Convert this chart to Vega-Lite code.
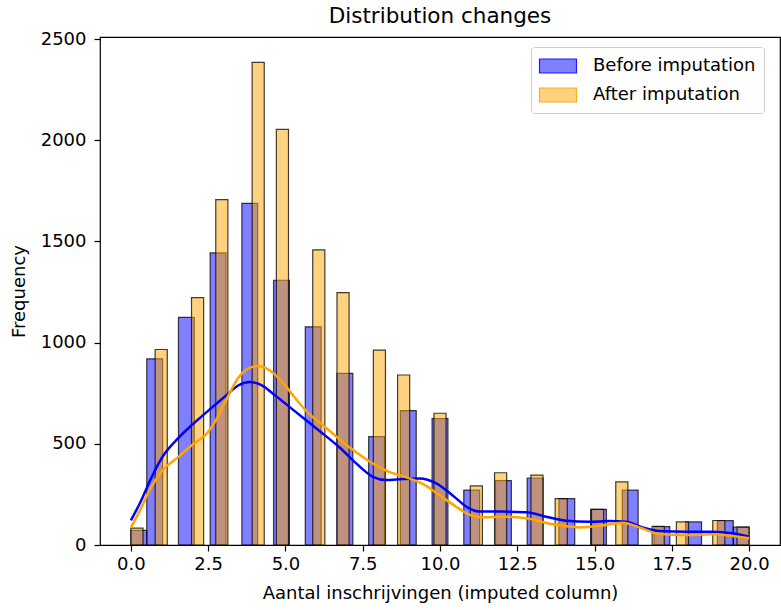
{
  "$schema": "https://vega.github.io/schema/vega-lite/v6.json",
  "width": 680,
  "height": 508,
  "autosize": {"type": "none"},
  "padding": {"left": 100, "top": 37, "right": 1, "bottom": 65},
  "background": "white",
  "title": {"text": "Distribution changes", "fontSize": 21.5, "font": "DejaVu Sans", "fontWeight": "normal", "color": "black", "offset": 3, "anchor": "middle"},
  "config": {
    "view": {"stroke": "black", "strokeWidth": 1.2},
    "axis": {"grid": false, "domain": false, "tickColor": "black", "tickSize": 6, "tickWidth": 1.2, "labelFont": "DejaVu Sans", "labelFontSize": 18, "labelColor": "black", "titleFont": "DejaVu Sans", "titleFontSize": 18, "titleFontWeight": "normal", "titleColor": "black"}
  },
  "datasets": {
    "hist": [
      {"group": "Before imputation", "value": 0, "start": 0.0, "end": 0.5128, "count": 72},
      {"group": "Before imputation", "value": 1, "start": 0.5128, "end": 1.0256, "count": 920},
      {"group": "Before imputation", "value": 2, "start": 1.5385, "end": 2.0513, "count": 1125},
      {"group": "Before imputation", "value": 3, "start": 2.5641, "end": 3.0769, "count": 1443},
      {"group": "Before imputation", "value": 4, "start": 3.5897, "end": 4.1026, "count": 1688},
      {"group": "Before imputation", "value": 5, "start": 4.6154, "end": 5.1282, "count": 1308},
      {"group": "Before imputation", "value": 6, "start": 5.641, "end": 6.1538, "count": 1078},
      {"group": "Before imputation", "value": 7, "start": 6.6667, "end": 7.1795, "count": 848},
      {"group": "Before imputation", "value": 8, "start": 7.6923, "end": 8.2051, "count": 535},
      {"group": "Before imputation", "value": 9, "start": 8.7179, "end": 9.2308, "count": 664},
      {"group": "Before imputation", "value": 10, "start": 9.7436, "end": 10.2564, "count": 625},
      {"group": "Before imputation", "value": 11, "start": 10.7692, "end": 11.2821, "count": 271},
      {"group": "Before imputation", "value": 12, "start": 11.7949, "end": 12.3077, "count": 318},
      {"group": "Before imputation", "value": 13, "start": 12.8205, "end": 13.3333, "count": 331},
      {"group": "Before imputation", "value": 14, "start": 13.8462, "end": 14.359, "count": 229},
      {"group": "Before imputation", "value": 15, "start": 14.8718, "end": 15.3846, "count": 176},
      {"group": "Before imputation", "value": 16, "start": 15.8974, "end": 16.4103, "count": 271},
      {"group": "Before imputation", "value": 17, "start": 16.9231, "end": 17.4359, "count": 91},
      {"group": "Before imputation", "value": 18, "start": 17.9487, "end": 18.4615, "count": 114},
      {"group": "Before imputation", "value": 19, "start": 18.9744, "end": 19.4872, "count": 120},
      {"group": "Before imputation", "value": 20, "start": 19.4872, "end": 20.0, "count": 88},
      {"group": "After imputation", "value": 0, "start": 0.0, "end": 0.3922, "count": 83},
      {"group": "After imputation", "value": 1, "start": 0.7843, "end": 1.1765, "count": 966},
      {"group": "After imputation", "value": 2, "start": 1.9608, "end": 2.3529, "count": 1222},
      {"group": "After imputation", "value": 3, "start": 2.7451, "end": 3.1373, "count": 1706},
      {"group": "After imputation", "value": 4, "start": 3.9216, "end": 4.3137, "count": 2385},
      {"group": "After imputation", "value": 5, "start": 4.7059, "end": 5.098, "count": 2054},
      {"group": "After imputation", "value": 6, "start": 5.8824, "end": 6.2745, "count": 1458},
      {"group": "After imputation", "value": 7, "start": 6.6667, "end": 7.0588, "count": 1247},
      {"group": "After imputation", "value": 8, "start": 7.8431, "end": 8.2353, "count": 963},
      {"group": "After imputation", "value": 9, "start": 8.6275, "end": 9.0196, "count": 840},
      {"group": "After imputation", "value": 10, "start": 9.8039, "end": 10.1961, "count": 651},
      {"group": "After imputation", "value": 11, "start": 10.9804, "end": 11.3725, "count": 292},
      {"group": "After imputation", "value": 12, "start": 11.7647, "end": 12.1569, "count": 357},
      {"group": "After imputation", "value": 13, "start": 12.9412, "end": 13.3333, "count": 345},
      {"group": "After imputation", "value": 14, "start": 13.7255, "end": 14.1176, "count": 229},
      {"group": "After imputation", "value": 15, "start": 14.902, "end": 15.2941, "count": 176},
      {"group": "After imputation", "value": 16, "start": 15.6863, "end": 16.0784, "count": 312},
      {"group": "After imputation", "value": 17, "start": 16.8627, "end": 17.2549, "count": 92},
      {"group": "After imputation", "value": 18, "start": 17.6471, "end": 18.0392, "count": 114},
      {"group": "After imputation", "value": 19, "start": 18.8235, "end": 19.2157, "count": 121},
      {"group": "After imputation", "value": 20, "start": 19.6078, "end": 20.0, "count": 88}
    ],
    "kde": [
      {"group": "Before imputation", "x": 0.0, "y": 122},
      {"group": "Before imputation", "x": 0.29, "y": 206},
      {"group": "Before imputation", "x": 0.67, "y": 335},
      {"group": "Before imputation", "x": 1.04, "y": 440},
      {"group": "Before imputation", "x": 1.53, "y": 528},
      {"group": "Before imputation", "x": 2.01, "y": 598},
      {"group": "Before imputation", "x": 2.55, "y": 670},
      {"group": "Before imputation", "x": 3.09, "y": 740},
      {"group": "Before imputation", "x": 3.47, "y": 788},
      {"group": "Before imputation", "x": 3.84, "y": 805},
      {"group": "Before imputation", "x": 4.22, "y": 790},
      {"group": "Before imputation", "x": 4.65, "y": 741},
      {"group": "Before imputation", "x": 5.19, "y": 675},
      {"group": "Before imputation", "x": 5.73, "y": 609},
      {"group": "Before imputation", "x": 6.27, "y": 543},
      {"group": "Before imputation", "x": 6.78, "y": 478},
      {"group": "Before imputation", "x": 7.29, "y": 403},
      {"group": "Before imputation", "x": 7.83, "y": 337},
      {"group": "Before imputation", "x": 8.26, "y": 321},
      {"group": "Before imputation", "x": 8.8, "y": 326},
      {"group": "Before imputation", "x": 9.34, "y": 329},
      {"group": "Before imputation", "x": 9.88, "y": 305},
      {"group": "Before imputation", "x": 10.41, "y": 245},
      {"group": "Before imputation", "x": 10.9, "y": 185},
      {"group": "Before imputation", "x": 11.28, "y": 165},
      {"group": "Before imputation", "x": 12.03, "y": 165},
      {"group": "Before imputation", "x": 12.79, "y": 162},
      {"group": "Before imputation", "x": 13.43, "y": 140},
      {"group": "Before imputation", "x": 14.08, "y": 120},
      {"group": "Before imputation", "x": 14.83, "y": 115},
      {"group": "Before imputation", "x": 15.48, "y": 118},
      {"group": "Before imputation", "x": 16.02, "y": 115},
      {"group": "Before imputation", "x": 16.55, "y": 87},
      {"group": "Before imputation", "x": 17.09, "y": 69},
      {"group": "Before imputation", "x": 17.95, "y": 66},
      {"group": "Before imputation", "x": 18.81, "y": 66},
      {"group": "Before imputation", "x": 19.46, "y": 58},
      {"group": "Before imputation", "x": 20.0, "y": 41},
      {"group": "After imputation", "x": 0.0, "y": 86},
      {"group": "After imputation", "x": 0.29, "y": 170},
      {"group": "After imputation", "x": 0.67, "y": 290},
      {"group": "After imputation", "x": 1.04, "y": 372},
      {"group": "After imputation", "x": 1.53, "y": 434},
      {"group": "After imputation", "x": 2.01, "y": 498},
      {"group": "After imputation", "x": 2.45, "y": 550},
      {"group": "After imputation", "x": 2.77, "y": 622},
      {"group": "After imputation", "x": 3.1, "y": 722},
      {"group": "After imputation", "x": 3.47, "y": 825},
      {"group": "After imputation", "x": 3.84, "y": 875},
      {"group": "After imputation", "x": 4.11, "y": 884},
      {"group": "After imputation", "x": 4.55, "y": 856},
      {"group": "After imputation", "x": 4.98, "y": 790},
      {"group": "After imputation", "x": 5.41, "y": 708},
      {"group": "After imputation", "x": 5.84, "y": 638},
      {"group": "After imputation", "x": 6.27, "y": 585},
      {"group": "After imputation", "x": 6.78, "y": 518},
      {"group": "After imputation", "x": 7.29, "y": 458},
      {"group": "After imputation", "x": 7.83, "y": 402},
      {"group": "After imputation", "x": 8.37, "y": 360},
      {"group": "After imputation", "x": 8.91, "y": 335},
      {"group": "After imputation", "x": 9.44, "y": 302},
      {"group": "After imputation", "x": 9.98, "y": 247},
      {"group": "After imputation", "x": 10.52, "y": 189},
      {"group": "After imputation", "x": 10.95, "y": 150},
      {"group": "After imputation", "x": 11.28, "y": 137},
      {"group": "After imputation", "x": 12.03, "y": 140},
      {"group": "After imputation", "x": 12.79, "y": 132},
      {"group": "After imputation", "x": 13.65, "y": 102},
      {"group": "After imputation", "x": 14.51, "y": 87},
      {"group": "After imputation", "x": 15.15, "y": 95},
      {"group": "After imputation", "x": 15.91, "y": 110},
      {"group": "After imputation", "x": 16.45, "y": 87},
      {"group": "After imputation", "x": 17.09, "y": 54},
      {"group": "After imputation", "x": 17.95, "y": 49},
      {"group": "After imputation", "x": 18.81, "y": 53},
      {"group": "After imputation", "x": 19.46, "y": 44},
      {"group": "After imputation", "x": 20.0, "y": 33}
    ]
  },
  "layer": [
    {
      "data": {"name": "hist"},
      "mark": {"type": "bar", "fillOpacity": 0.5, "stroke": "black", "strokeWidth": 1.2, "strokeOpacity": 0.75},
      "encoding": {
        "x": {"field": "start", "type": "quantitative", "scale": {"domain": [-1, 21], "nice": false, "zero": false},
              "axis": {"values": [0, 2.5, 5, 7.5, 10, 12.5, 15, 17.5, 20], "format": ".1f", "title": "Aantal inschrijvingen (imputed column)", "labelPadding": 4, "titlePadding": 11}},
        "x2": {"field": "end"},
        "y": {"field": "count", "type": "quantitative", "scale": {"domain": [0, 2510], "nice": false},
              "axis": {"values": [0, 500, 1000, 1500, 2000, 2500], "format": "d", "title": "Frequency", "labelPadding": 8, "titlePadding": 12}},
        "y2": {"datum": 0},
        "fill": {"field": "group", "type": "nominal", "sort": null,
                 "scale": {"domain": ["Before imputation", "After imputation"], "range": ["#0000ff", "#ffa500"]},
                 "legend": {"title": null, "orient": "none", "legendX": 431, "legendY": 10,
                            "symbolType": "M-1.85,-0.7H1.85V0.7H-1.85Z", "symbolSize": 400, "symbolStrokeColor": "black", "symbolStrokeWidth": 1.2, "symbolOffset": 8,
                            "labelFont": "DejaVu Sans", "labelFontSize": 18, "labelColor": "black", "labelOffset": 24, "labelLimit": 400,
                            "fillColor": "white", "strokeColor": "#d0d0d0", "cornerRadius": 3, "padding": 8, "rowPadding": 8,
                            "encode": {"symbols": {"update": {"fillOpacity": {"value": 0.5}, "stroke": {"value": "black"}, "strokeOpacity": {"value": 0.85}}}}}}
      }
    },
    {
      "data": {"name": "kde"},
      "mark": {"type": "line", "strokeWidth": 2.5, "interpolate": "monotone"},
      "encoding": {
        "x": {"field": "x", "type": "quantitative"},
        "y": {"field": "y", "type": "quantitative"},
        "stroke": {"field": "group", "type": "nominal", "sort": null,
                   "scale": {"domain": ["Before imputation", "After imputation"], "range": ["#0000ff", "#ffa500"]},
                   "legend": null},
        "order": {"field": "x", "type": "quantitative"}
      }
    }
  ]
}
